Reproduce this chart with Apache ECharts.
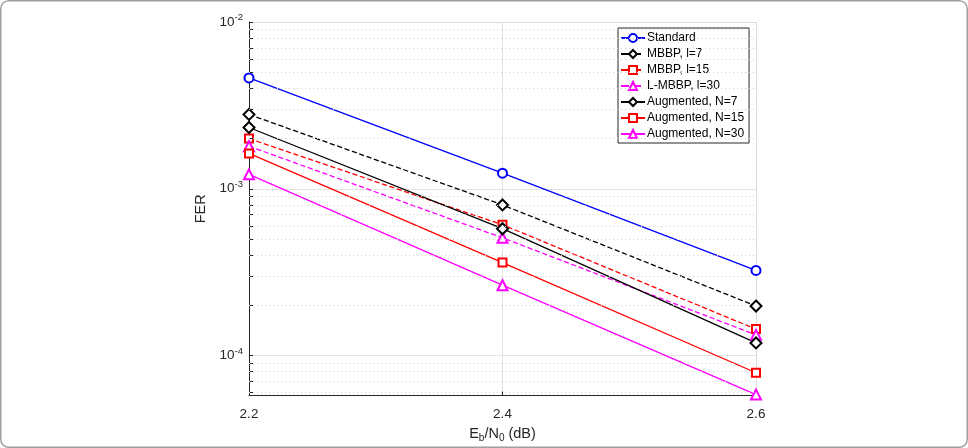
<!DOCTYPE html>
<html><head><meta charset="utf-8">
<script src="https://cdn.jsdelivr.net/npm/echarts@6/dist/echarts.min.js"></script>
<style>html,body{margin:0;padding:0;background:#fff}#c{width:968px;height:448px}</style>
</head><body><div id="c"></div>
<script>
// ---- data ----
const snr = [2.2, 2.4, 2.6];
const xTickLabels = ['2.2', '2.4', '2.6'];
const seriesNames = ['Standard', 'MBBP, l=7', 'MBBP, l=15', 'L-MBBP, l=30', 'Augmented, N=7', 'Augmented, N=15', 'Augmented, N=30'];
const standard = [4.62e-3, 1.24e-3, 3.24e-4];
const mbbp7 = [2.79e-3, 8.0e-4, 1.98e-4];
const mbbp15 = [2.0e-3, 6.08e-4, 1.44e-4];
const lmbbp30 = [1.80e-3, 5.08e-4, 1.33e-4];
const aug7 = [2.33e-3, 5.76e-4, 1.19e-4];
const aug15 = [1.63e-3, 3.61e-4, 7.88e-5];
const aug30 = [1.22e-3, 2.64e-4, 5.83e-5];
const yMin = 5.75e-5, yMax = 1e-2;
const minorGridValues = [6e-5, 7e-5, 8e-5, 9e-5, 2e-4, 3e-4, 4e-4, 5e-4, 6e-4, 7e-4, 8e-4, 9e-4, 2e-3, 3e-3, 4e-3, 5e-3, 6e-3, 7e-3, 8e-3, 9e-3];

// ---- styles ----
const FONT = 'Liberation Sans, Arial, Helvetica, sans-serif';
const styles = [
  {color: '#0000ff', type: 'solid', symbol: 'emptyCircle', size: 9},
  {color: '#000000', type: 'dashed', symbol: 'emptyDiamond', size: 11},
  {color: '#ff0000', type: 'dashed', symbol: 'emptyRect', size: 8},
  {color: '#ff00ff', type: 'dashed', symbol: 'emptyTriangle', size: 10},
  {color: '#000000', type: 'solid', symbol: 'emptyDiamond', size: 11},
  {color: '#ff0000', type: 'solid', symbol: 'emptyRect', size: 8},
  {color: '#ff00ff', type: 'solid', symbol: 'emptyTriangle', size: 10}
];
const values = [standard, mbbp7, mbbp15, lmbbp30, aug7, aug15, aug30];

const series = values.map((vals, i) => ({
  name: seriesNames[i],
  type: 'line',
  data: snr.map((x, j) => [x, vals[j]]),
  symbol: styles[i].symbol,
  symbolSize: styles[i].size,
  showAllSymbol: true,
  color: styles[i].color,
  lineStyle: {color: styles[i].color, width: 1.3, type: styles[i].type},
  itemStyle: {color: styles[i].color, borderWidth: 1.3},
  z: 3
}));

const tickLen = 0.4 * 4 / 507;
const minorLines = [];
minorGridValues.forEach(v => {
  minorLines.push([{coord: [2.2, v]}, {coord: [2.6, v]}]);
});
const minorTicks = [];
minorGridValues.forEach(v => {
  minorTicks.push([{coord: [2.2, v]}, {coord: [2.2 + tickLen, v]}]);
});
series.unshift({
  type: 'line', data: [], silent: true, z: 1,
  markLine: {
    silent: true, symbol: ['none', 'none'], label: {show: false},
    animation: false,
    lineStyle: {color: '#d0d0d0', type: [1, 3], width: 1},
    emphasis: {disabled: true},
    data: minorLines
  }
});
series.unshift({
  type: 'line', data: [], silent: true, z: 4,
  markLine: {
    silent: true, symbol: ['none', 'none'], label: {show: false},
    animation: false,
    lineStyle: {color: '#262626', type: 'solid', width: 1},
    emphasis: {disabled: true},
    data: minorTicks
  }
});

const chart = echarts.init(document.getElementById('c'), null, {renderer: 'canvas'});
chart.setOption({
  animation: false,
  backgroundColor: '#ffffff',
  textStyle: {fontFamily: FONT},
  graphic: [{
    type: 'rect', shape: {x: 0.75, y: 0.75, width: 966.5, height: 446.5, r: 8},
    style: {fill: 'none', stroke: '#a0a0a0', lineWidth: 1.5}, silent: true, z: 0
  }],
  grid: {left: 249, right: 212, top: 22, bottom: 49, containLabel: false},
  legend: {
    data: seriesNames,
    orient: 'vertical',
    left: 618, top: 28,
    itemWidth: 24, itemHeight: 10, itemGap: 2,
    padding: [3, 5, 2, 2],
    backgroundColor: '#ffffff',
    borderColor: '#262626', borderWidth: 1,
    textStyle: {fontFamily: FONT, fontSize: 12, color: '#000', lineHeight: 14, padding: [0, 0, 0, -3]}
  },
  xAxis: [{
    type: 'value', min: 2.2, max: 2.6, interval: 0.2,
    name: '{n|E}{s|b}{n|/N}{s|0}{n| (dB)}',
    nameLocation: 'middle', nameGap: 25,
    nameTextStyle: {
      rich: {
        n: {fontFamily: FONT, fontSize: 14.5, color: '#262626'},
        s: {fontFamily: FONT, fontSize: 10, color: '#262626', padding: [8, 0, 0, 0]}
      }
    },
    axisLine: {show: true, lineStyle: {color: '#262626', width: 1}},
    axisTick: {show: true, inside: true, length: 4, lineStyle: {color: '#262626'}},
    axisLabel: {margin: 12, fontSize: 13.5, color: '#262626', fontFamily: FONT, formatter: v => v.toFixed(1)},
    splitLine: {show: true, lineStyle: {color: '#e3e3e3', width: 1}}
  }, {
    type: 'value', min: 2.2, max: 2.6, interval: 0.2, position: 'top',
    axisLine: {show: true, lineStyle: {color: '#dcdcdc'}},
    axisTick: {show: false}, axisLabel: {show: false}, splitLine: {show: false}
  }],
  yAxis: [{
    type: 'log', logBase: 10, min: yMin, max: yMax,
    name: 'FER', nameLocation: 'middle', nameGap: 35, nameRotate: 90,
    nameTextStyle: {fontFamily: FONT, fontSize: 14.5, color: '#262626'},
    axisLine: {show: true, lineStyle: {color: '#262626', width: 1}},
    axisTick: {show: true, inside: true, length: 4, lineStyle: {color: '#262626'}},
    axisLabel: {
      margin: 6, color: '#262626',
      formatter: v => {
        const e = Math.log10(v);
        if (Math.abs(e - Math.round(e)) > 1e-6) return '';
        return '{b|10}{s|' + Math.round(e) + '}';
      },
      rich: {
        b: {fontFamily: FONT, fontSize: 13.5, color: '#262626'},
        s: {fontFamily: FONT, fontSize: 9.5, color: '#262626', padding: [0, 0, 9, 0]}
      }
    },
    splitLine: {show: true, lineStyle: {color: '#e3e3e3', width: 1}}
  }, {
    type: 'log', logBase: 10, min: yMin, max: yMax, position: 'right',
    axisLine: {show: true, lineStyle: {color: '#dcdcdc'}},
    axisTick: {show: false}, axisLabel: {show: false}, splitLine: {show: false}
  }],
  series: series
});
</script>
</body></html>
